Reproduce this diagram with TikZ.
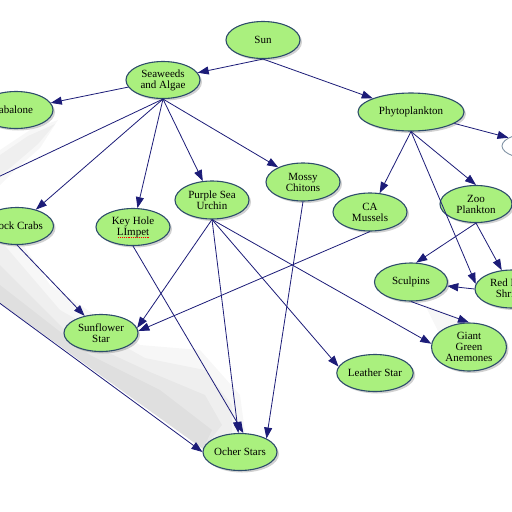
\documentclass[tikz,border=0pt]{standalone}
\usepackage{fontspec}
\setmainfont{Liberation Serif}
\usetikzlibrary{arrows.meta,shapes.geometric,shadows}
\definecolor{nodefill}{HTML}{AAF07E}
\definecolor{nodeline}{HTML}{2E4D6B}
\definecolor{edgecol}{HTML}{1C1C78}
\tikzset{
  sp/.style={ellipse, draw=nodeline, line width=1.1pt, fill=nodefill, inner sep=0pt,
    minimum width=74pt, minimum height=37pt, align=center,
    font=\fontsize{11}{11}\selectfont,
    drop shadow={shadow xshift=2pt,shadow yshift=-2pt,fill=black,opacity=0.18}},
  ghost/.style={ellipse, draw=nodeline!60, line width=0.9pt, fill=white, inner sep=0pt,
    minimum width=76pt, minimum height=28pt},
  ed/.style={draw=edgecol, line width=0.8pt, -{Triangle[length=11pt,width=8pt]}},
  plain/.style={draw=edgecol, line width=0.8pt},
  shade/.style={fill=black, opacity=0.03, draw=none},
}
\begin{document}
\begin{tikzpicture}[x=1pt,y=-1pt]
\useasboundingbox (0,0) rectangle (512,512);
\fill[white] (0,0) rectangle (512,512);
\clip (0,0) rectangle (512,512);

% soft background shading (layered to look blurred)
\path[shade] (0,210) -- (50,285) -- (140,345) -- (200,350) -- (240,395) -- (245,432) -- (203,449) -- (0,303) -- cycle;
\path[shade] (0,240) -- (60,310) -- (145,358) -- (205,370) -- (232,405) -- (232,432) -- (203,449) -- (0,303) -- cycle;
\path[shade] (0,265) -- (70,335) -- (150,372) -- (205,395) -- (222,425) -- (203,449) -- (0,303) -- cycle;
\path[shade] (0,285) -- (90,355) -- (160,390) -- (212,430) -- (203,449) -- (0,303) -- cycle;
\path[shade] (58,120) -- (40,148) -- (15,170) -- (0,185) -- (0,150) -- (30,130) -- cycle;
\path[shade] (55,124) -- (38,144) -- (10,168) -- (0,175) -- (0,155) -- (28,136) -- cycle;
\path[shade] (425,305) -- (470,322) -- (445,345) -- cycle;

% nodes
\node[sp] (sun) at (263,40) {Sun};
\node[sp] (sea) at (163,80) {Seaweeds\\and Algae};
\node[sp] (aba) at (16,110) {abalone};
\node[sp, minimum width=72pt] (rock) at (17,226) {Rock Crabs};
\node[sp] (key) at (133,227) {Key Hole\\LImpet};
\node[sp, minimum height=38pt] (urchin) at (212,200) {Purple Sea\\Urchin};
\node[sp, minimum height=38pt] (mossy) at (303,182) {Mossy\\Chitons};
\node[sp, minimum height=38pt] (ca) at (370,212) {CA\\Mussels};
\node[sp, minimum width=106pt, minimum height=38pt] (phyto) at (411,112) {Phytoplankton};
\node[ghost] (far) at (540,146) {};
\node[sp, minimum width=72pt] (zoo) at (476,204) {Zoo\\Plankton};
\node[sp, minimum width=73pt, minimum height=38pt] (sculp) at (411,282) {Sculpins};
\node[sp, minimum height=38pt] (shrimp) at (512,289) {Red Rock\\Shrimp};
\node[sp] (sunfl) at (101,333) {Sunflower\\Star};
\node[sp, minimum width=75pt, minimum height=48pt] (giant) at (469,347) {Giant\\Green\\Anemones};
\node[sp, minimum width=73pt] (leather) at (375,373) {Leather Star};
\node[sp] (ocher) at (240,452) {Ocher Stars};

\coordinate (offA) at (-40,195);
\coordinate (offB) at (-40,274);

\draw[red, densely dotted, line width=0.9pt] ([xshift=-15pt,yshift=-10pt]key.center) -- ++(31,0);

% edges
\draw[ed] (sun.south) -- (sea);
\draw[ed] (sun.south) -- (phyto);
\draw[ed] (phyto) -- (far);
\draw[ed] (sea) -- (aba);
\draw[plain] (sea.south) -- (offA);
\draw[ed] (sea.south) -- (rock);
\draw[ed] (sea.south) -- (key);
\draw[ed] (sea.south) -- (urchin);
\draw[ed] (sea.south) -- (mossy);
\draw[ed] (phyto.south) -- (ca);
\draw[ed] (phyto.south) -- (zoo.north);
\draw[ed] (phyto.south) -- (shrimp.172);
\draw[ed] (zoo.south) -- (sculp.75);
\draw[ed] (zoo.south) -- (shrimp);
\draw[ed] (shrimp.west) -- (sculp);
\draw[ed] (sculp.south) -- (giant.north);
\draw[ed] (rock.south) -- (sunfl);
\draw[ed] (offB) -- (ocher.west);
\draw[ed] (key.south) -- (ocher.80);
\draw[ed] (mossy.south) -- (ocher.27);
\draw[ed] (urchin.south) -- (ocher.95);
\draw[ed] (urchin.south) -- (sunfl.8);
\draw[ed] (ca.south) -- (sunfl.3);
\draw[ed] (urchin.south) -- (leather.170);
\draw[ed] (urchin.south) -- (giant.175);
\end{tikzpicture}
\end{document}
